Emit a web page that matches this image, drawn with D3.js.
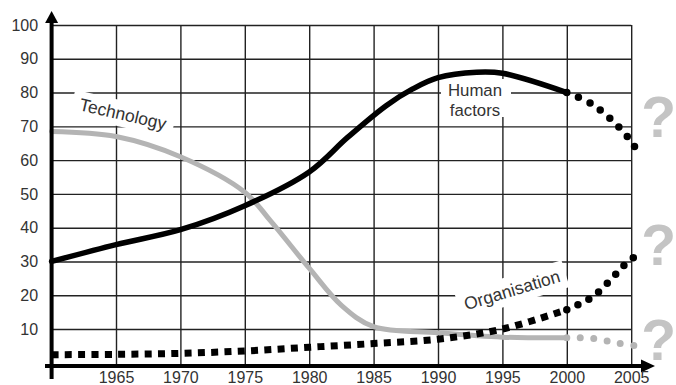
<!DOCTYPE html>
<html>
<head>
<meta charset="utf-8">
<script src="https://cdn.jsdelivr.net/npm/d3@7"></script>
<style>
  html, body { margin: 0; padding: 0; background: #fff; }
  svg { display: block; }
  text { font-family: "Liberation Sans", Arial, Helvetica, sans-serif; }
</style>
</head>
<body>
<svg id="chart" width="676" height="385"></svg>
<script>
// ---- data ----
const xTicks = [1965, 1970, 1975, 1980, 1985, 1990, 1995, 2000, 2005];
const xTickLabels = ["1965", "1970", "1975", "1980", "1985", "1990", "1995", "2000", "2005"];
const yTicks = [10, 20, 30, 40, 50, 60, 70, 80, 90, 100];
const yTickLabels = ["10", "20", "30", "40", "50", "60", "70", "80", "90", "100"];

const humanYears  = [1960, 1965, 1970, 1975, 1980, 1983, 1986, 1988, 1990, 1993, 1995, 2000];
const humanValues = [30, 35, 39.4, 46.5, 56.5, 66.8, 76.2, 81, 84.4, 86, 85.7, 80];
const humanFutureYears  = [2000, 2002, 2004, 2005, 2005.5];
const humanFutureValues = [80, 76.5, 70, 65.5, 62.5];

const techYears  = [1960, 1965, 1970, 1975, 1977, 1980, 1982.5, 1985, 1990, 1995, 2000];
const techValues = [68.5, 67, 61, 50.5, 42, 28, 17, 10.7, 8.9, 7.6, 7.4];
const techFutureYears  = [2000, 2002, 2004, 2005.4];
const techFutureValues = [7.4, 7.2, 5.8, 5];

const orgYears  = [1960, 1965, 1970, 1975, 1980, 1985, 1990, 1995, 2000];
const orgValues = [2.4, 2.5, 2.8, 3.5, 4.6, 5.7, 7, 10, 15.7];
const orgFutureYears  = [2000, 2002, 2003.5, 2004.5, 2005.8];
const orgFutureValues = [15.7, 19.5, 25, 29, 33];

const seriesLabels = { human: ["Human", "factors"], tech: "Technology", org: "Organisation" };

// ---- layout ----
const svg = d3.select("#chart");
const x = d3.scaleLinear().domain([1960, 2005]).range([51.6, 631.2]);
const y = d3.scaleLinear().domain([0, 100]).range([362.8, 25]);
const axisY = 366;
const ink = "#222";
const grey = "#b4b4b4";
const qGrey = "#c4c4c4";

// ---- grid ----
const vGrid = svg.append("g")
  .attr("transform", `translate(0,${axisY})`)
  .call(d3.axisBottom(x).tickValues(xTicks).tickSize(-(axisY - y(100))).tickFormat(""));
vGrid.select(".domain").remove();
vGrid.selectAll("line").attr("stroke", ink).attr("stroke-width", 1.4);

const hGrid = svg.append("g")
  .attr("transform", `translate(${x(1960)},0)`)
  .call(d3.axisLeft(y).tickValues(yTicks).tickSize(-(x(2005) - x(1960))).tickFormat(""));
hGrid.select(".domain").remove();
hGrid.selectAll("line").attr("stroke", ink).attr("stroke-width", 1.4);

// ---- white label backgrounds (break the grid) ----
function bgBox(cx, cy, w, h, angle) {
  svg.append("rect")
    .attr("x", -w / 2).attr("y", -h / 2).attr("width", w).attr("height", h)
    .attr("fill", "#fff")
    .attr("transform", `translate(${cx},${cy}) rotate(${angle})`);
}
bgBox(123, 114, 104, 26, 13);
bgBox(476, 98, 70, 38, 0);
bgBox(512, 290, 112, 28, -17);

// ---- lines ----
const line = d3.line().x(d => x(d[0])).y(d => y(d[1])).curve(d3.curveCatmullRom.alpha(0.5));
const zip = (a, b) => a.map((v, i) => [v, b[i]]);

// technology (grey)
svg.append("path").datum(zip(techYears, techValues))
  .attr("d", line).attr("fill", "none").attr("stroke", grey)
  .attr("stroke-width", 5).attr("stroke-linecap", "round");
svg.append("path").datum(zip(techFutureYears, techFutureValues))
  .attr("d", line).attr("fill", "none").attr("stroke", grey)
  .attr("stroke-width", 7).attr("stroke-linecap", "round")
  .attr("stroke-dasharray", "0,13.5");

// organisation (black square dots, then round dots)
svg.append("path").datum(zip(orgYears, orgValues))
  .attr("d", line).attr("fill", "none").attr("stroke", "#000")
  .attr("stroke-width", 7).attr("stroke-linecap", "butt")
  .attr("stroke-dasharray", "7,6.3");
svg.append("path").datum(zip(orgFutureYears, orgFutureValues))
  .attr("d", line).attr("fill", "none").attr("stroke", "#000")
  .attr("stroke-width", 7.5).attr("stroke-linecap", "round")
  .attr("stroke-dasharray", "0,12.2");

// human factors (black)
svg.append("path").datum(zip(humanYears, humanValues))
  .attr("d", line).attr("fill", "none").attr("stroke", "#000")
  .attr("stroke-width", 5.5).attr("stroke-linecap", "round");
svg.append("path").datum(zip(humanFutureYears, humanFutureValues))
  .attr("d", line).attr("fill", "none").attr("stroke", "#000")
  .attr("stroke-width", 7.5).attr("stroke-linecap", "round")
  .attr("stroke-dasharray", "0,12.6");

// ---- axes with arrows ----
svg.append("line").attr("x1", x(1960)).attr("x2", x(1960)).attr("y1", 379).attr("y2", 20)
  .attr("stroke", "#000").attr("stroke-width", 4);
svg.append("path")
  .attr("d", `M${x(1960)},11 L${x(1960) - 6.5},23 L${x(1960) + 6.5},23 Z`).attr("fill", "#000");
svg.append("line").attr("x1", 45).attr("x2", 643).attr("y1", axisY).attr("y2", axisY)
  .attr("stroke", "#000").attr("stroke-width", 4);
svg.append("path")
  .attr("d", `M655,${axisY} L641,${axisY - 6.5} L641,${axisY + 6.5} Z`).attr("fill", "#000");

// ---- tick labels ----
const yAx = svg.append("g")
  .attr("transform", `translate(${x(1960)},0)`)
  .call(d3.axisLeft(y).tickValues(yTicks).tickSize(0).tickPadding(13.5)
    .tickFormat((d, i) => yTickLabels[i]));
yAx.select(".domain").remove();
yAx.selectAll("text").attr("font-size", 16).attr("fill", "#333")
  .attr("font-family", "'Liberation Sans', Arial, sans-serif");

const xAx = svg.append("g")
  .attr("transform", `translate(0,${axisY})`)
  .call(d3.axisBottom(x).tickValues(xTicks).tickSize(0).tickPadding(6)
    .tickFormat((d, i) => xTickLabels[i]));
xAx.select(".domain").remove();
xAx.selectAll("text").attr("font-size", 16).attr("fill", "#333")
  .attr("font-family", "'Liberation Sans', Arial, sans-serif");

// ---- series labels ----
svg.append("text").text(seriesLabels.tech)
  .attr("transform", "translate(123,114) rotate(13)")
  .attr("text-anchor", "middle").attr("dy", "0.35em")
  .attr("font-size", 17.5).attr("fill", "#333");

svg.selectAll("text.hf").data(seriesLabels.human).join("text").attr("class", "hf")
  .attr("text-anchor", "middle").attr("font-size", 16.8).attr("fill", "#333")
  .attr("x", 475).attr("y", (d, i) => 96 + i * 19.5).text(d => d);

svg.append("text").text(seriesLabels.org)
  .attr("transform", "translate(512,290) rotate(-17)")
  .attr("text-anchor", "middle").attr("dy", "0.35em")
  .attr("font-size", 17.5).attr("fill", "#333");

// ---- question marks ----
const qMarks = [
  { base: 137 },
  { base: 265 },
  { base: 360 }
];
svg.selectAll("text.q").data(qMarks).join("text").attr("class", "q")
  .attr("x", x(2005) + 27.5).attr("y", d => d.base)
  .attr("text-anchor", "middle").attr("font-size", 57).attr("font-weight", "bold")
  .attr("fill", qGrey).text("?");
</script>
</body>
</html>
